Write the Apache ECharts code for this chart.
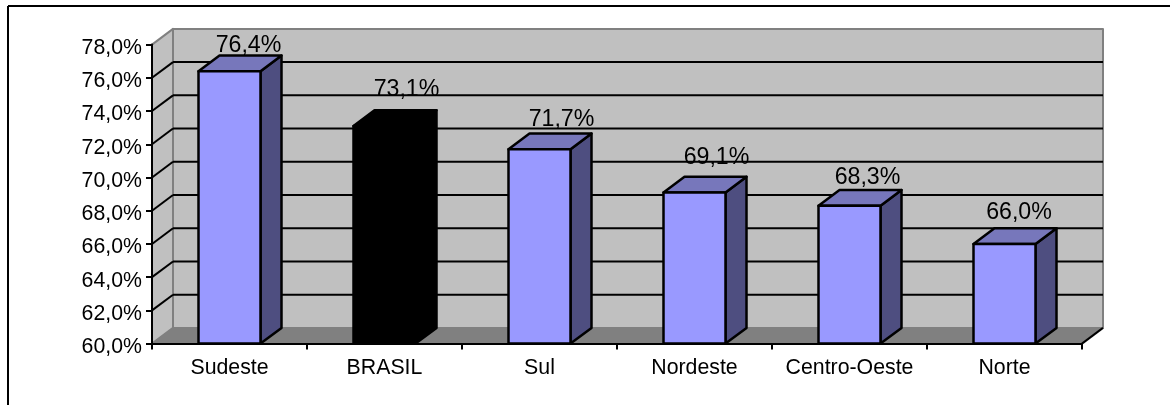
<!DOCTYPE html>
<html>
<head>
<meta charset="utf-8">
<style>html,body{margin:0;padding:0;background:#fff}#chart{width:1170px;height:405px}</style>
<script src="https://cdn.jsdelivr.net/npm/echarts@6/dist/echarts.min.js"></script>
</head>
<body>
<div id="chart"></div>
<script>
// Values
const regions = ['Sudeste', 'BRASIL', 'Sul', 'Nordeste', 'Centro-Oeste', 'Norte'];
const rates = [76.4, 73.1, 71.7, 69.1, 68.3, 66.0];
const axisTicks = [60, 62, 64, 66, 68, 70, 72, 74, 76, 78];

// Depth of the simulated 3D box, in pixels
const DX = 21, DY = 15.7;
const FONT = '"Liberation Sans", Arial, sans-serif';
const FONT_SIZE = 21.3;
const VALUE_FONT_SIZE = 23.2;
const FRONT = '#9999ff', TOP = '#7777bb', SIDE = '#4e4e80';
// Hand placement of each value label relative to its bar's front-top centre
const labelShift = [[19, -26], [22, -36], [22, -29.5], [22, -34.5], [18, -28.5], [14.5, -31.5]];

const pct = v => v.toFixed(1).replace('.', ',') + '%';
const poly = (points, fill, stroke, lineWidth) => ({
  type: 'polygon',
  shape: { points },
  style: { fill, stroke, lineWidth: lineWidth || 0, lineJoin: 'round' }
});
const seg = (x1, y1, x2, y2, stroke, lineWidth) => ({
  type: 'line',
  shape: { x1, y1, x2, y2 },
  style: { stroke, lineWidth }
});

// Back wall, side wall and floor
function renderWalls(params, api) {
  const c = params.coordSys;
  const l = c.x, r = c.x + c.width, t = c.y, b = c.y + c.height;
  return {
    type: 'group',
    children: [
      poly([[l + DX, t - DY], [r + DX, t - DY], [r + DX, b - DY], [l + DX, b - DY]], '#c0c0c0', '#808080', 2),
      poly([[l, t], [l + DX, t - DY], [l + DX, b - DY], [l, b]], '#c0c0c0', '#808080', 2),
      poly([[l, b], [l + DX, b - DY], [r + DX, b - DY], [r, b]], '#808080', '#808080', 1),
      seg(r, b, r + DX, b - DY, '#000', 2)
    ]
  };
}

// Horizontal rule across the back wall plus its diagonal on the side wall
function renderRule(params, api) {
  const c = params.coordSys;
  const y = api.coord([0, api.value(0)])[1];
  return {
    type: 'group',
    children: [
      seg(c.x, y, c.x + DX, y - DY, '#000', 2),
      seg(c.x + DX, y - DY, c.x + c.width + DX, y - DY, '#000', 2)
    ]
  };
}

// One box per category with its value label
function renderBar(params, api) {
  const i = api.value(0), v = api.value(1);
  const top = api.coord([i, v]);
  const base = api.coord([i, 60]);
  const w = api.size([1, 0])[0] * 0.4;
  const xl = top[0] - w / 2, xr = top[0] + w / 2;
  const isTotal = regions[i] === 'BRASIL';
  const edge = '#000';
  const shift = labelShift[i];
  return {
    type: 'group',
    children: [
      poly([[xr, top[1]], [xr + DX, top[1] - DY], [xr + DX, base[1] - DY], [xr, base[1]]], isTotal ? '#000' : SIDE, edge, 2.5),
      poly([[xl, top[1]], [xl + DX, top[1] - DY], [xr + DX, top[1] - DY], [xr, top[1]]], isTotal ? '#000' : TOP, edge, 2.5),
      poly([[xl, top[1]], [xr, top[1]], [xr, base[1]], [xl, base[1]]], isTotal ? '#000' : FRONT, edge, 2.5),
      {
        type: 'text',
        x: top[0] + shift[0],
        y: top[1] + shift[1],
        style: {
          text: pct(v), fill: '#000', font: VALUE_FONT_SIZE + 'px ' + FONT,
          textAlign: 'center', textVerticalAlign: 'middle'
        }
      }
    ]
  };
}

const chart = echarts.init(document.getElementById('chart'), null, { renderer: 'canvas' });
chart.setOption({
  animation: false,
  backgroundColor: '#fff',
  grid: { left: 152, top: 44.6, width: 930, height: 299 },
  graphic: [
    { type: 'line', shape: { x1: 8, y1: 6, x2: 1170, y2: 6 }, style: { stroke: '#000', lineWidth: 2 } },
    { type: 'line', shape: { x1: 8, y1: 6, x2: 8, y2: 405 }, style: { stroke: '#000', lineWidth: 2 } }
  ],
  xAxis: {
    type: 'category',
    data: regions,
    z: 5,
    axisLine: { lineStyle: { color: '#000', width: 2 } },
    axisTick: { show: true, alignWithLabel: false, length: 6, lineStyle: { color: '#000', width: 2 } },
    axisLabel: { color: '#000', fontFamily: FONT, fontSize: FONT_SIZE, margin: 14, interval: 0 }
  },
  yAxis: {
    type: 'value',
    min: 60,
    max: 78,
    interval: 2,
    z: 5,
    splitLine: { show: false },
    axisLine: { show: true, lineStyle: { color: '#000', width: 2 } },
    axisTick: { show: true, length: 6, lineStyle: { color: '#000', width: 2 } },
    axisLabel: { color: '#000', fontFamily: FONT, fontSize: FONT_SIZE, margin: 10, verticalAlign: 'top', lineHeight: 7, formatter: pct }
  },
  series: [
    { type: 'custom', z: 1, silent: true, clip: false, data: [[0]], encode: { x: -1, y: -1 }, renderItem: renderWalls },
    {
      type: 'custom', z: 2, silent: true, clip: false,
      data: axisTicks.filter(t => t > 60 && t < 78).map(t => [t]),
      encode: { x: -1, y: 0 },
      renderItem: renderRule
    },
    {
      type: 'custom', z: 3, silent: true, clip: false,
      data: rates.map((v, i) => [i, v]),
      encode: { x: 0, y: 1 },
      renderItem: renderBar
    }
  ]
});
</script>
</body>
</html>
